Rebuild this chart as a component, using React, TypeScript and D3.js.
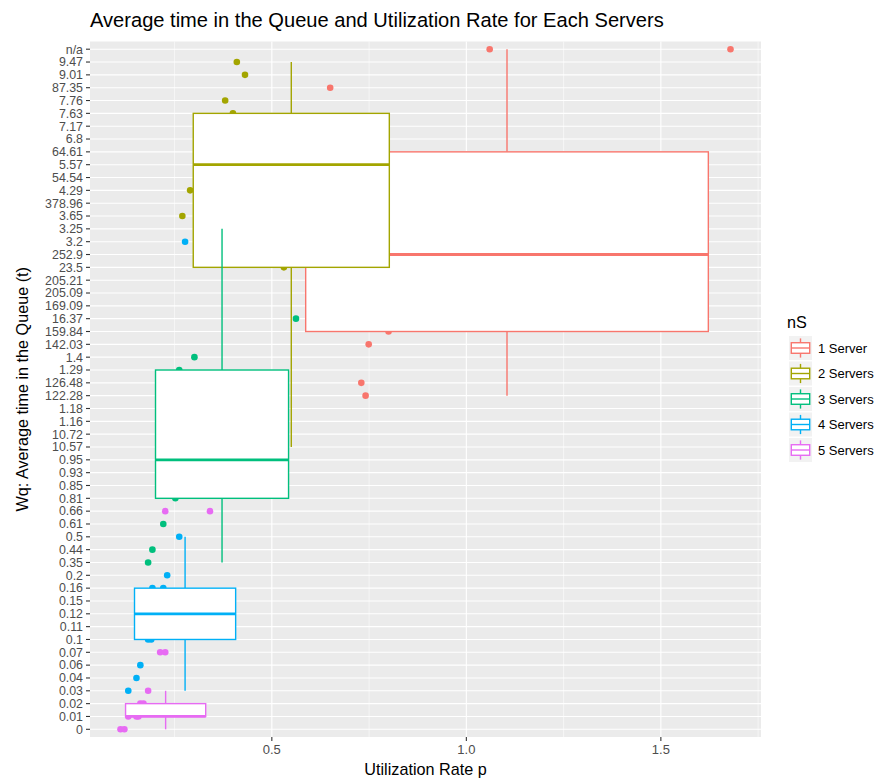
import React, { useEffect, useRef } from "react";
import * as d3 from "d3";

// y is a factor: levels from bottom to top
const wqLevels = [
  "0", "0.01", "0.02", "0.03", "0.04", "0.06", "0.07", "0.1", "0.11", "0.12",
  "0.15", "0.16", "0.2", "0.35", "0.44", "0.5", "0.61", "0.66", "0.81", "0.85",
  "0.93", "0.95", "10.57", "10.72", "1.16", "1.18", "122.28", "126.48", "1.29", "1.4",
  "142.03", "159.84", "16.37", "169.09", "205.09", "205.21", "23.5", "252.9", "3.2", "3.25",
  "3.65", "378.96", "4.29", "54.54", "5.57", "64.61", "6.8", "7.17", "7.63", "7.76",
  "87.35", "9.01", "9.47", "n/a",
];

const servers = ["1 Server", "2 Servers", "3 Servers", "4 Servers", "5 Servers"];
const serverColors = ["#F8766D", "#A3A500", "#00BF7D", "#00B0F6", "#E76BF3"];

// points (utilization p, Wq level) per number of servers
const p1 = [1.06, 1.679, 0.65, 0.80, 0.749, 0.73, 0.741];
const wq1 = ["n/a", "n/a", "87.35", "159.84", "142.03", "126.48", "122.28"];

const p2 = [0.41, 0.431, 0.38, 0.40, 0.29, 0.27, 0.531];
const wq2 = ["9.47", "9.01", "7.76", "7.63", "4.29", "3.65", "23.5"];

const p3 = [0.562, 0.301, 0.262, 0.252, 0.221, 0.193, 0.182];
const wq3 = ["16.37", "1.4", "1.29", "0.81", "0.61", "0.44", "0.35"];

const p4 = [0.277, 0.262, 0.231, 0.193, 0.221, 0.182, 0.19, 0.162, 0.152, 0.131];
const wq4 = ["3.2", "0.5", "0.2", "0.16", "0.16", "0.1", "0.1", "0.06", "0.04", "0.03"];

const p5 = [0.226, 0.341, 0.213, 0.226, 0.182, 0.162, 0.17, 0.131, 0.152, 0.157, 0.111, 0.121];
const wq5 = ["0.66", "0.66", "0.07", "0.07", "0.03", "0.02", "0.02", "0.01", "0.01", "0.01", "0", "0"];

const pointP = [p1, p2, p3, p4, p5];
const pointWq = [wq1, wq2, wq3, wq4, wq5];

// boxplot stats per group
const boxLow = ["122.28", "10.57", "0.35", "0.03", "0"];
const boxQ1 = ["159.84", "23.5", "0.81", "0.1", "0.01"];
const boxMed = ["252.9", "5.57", "0.95", "0.12", "0.01"];
const boxQ3 = ["64.61", "7.63", "1.29", "0.16", "0.02"];
const boxHigh = ["n/a", "9.47", "3.25", "0.5", "0.03"];
const boxPMin = [0.587, 0.298, 0.201, 0.147, 0.124];
const boxPMax = [1.622, 0.802, 0.543, 0.407, 0.330];

const xTicks = [0.5, 1.0, 1.5];
const xMinor = [0.25, 0.75, 1.25, 1.75];

const W = 881, H = 782;
const FONT = "'Liberation Sans', Arial, Helvetica, sans-serif";

const App = () => {
  const ref = useRef<SVGSVGElement | null>(null);

  useEffect(() => {
    const svg = d3.select(ref.current);
    svg.selectAll("*").remove();

    const panel = { left: 90, right: 761, top: 41.5, bottom: 737 };

    const allP = pointP.flat().concat(boxPMin, boxPMax);
    const lo = d3.min(allP) as number, hi = d3.max(allP) as number;
    const pad = (hi - lo) * 0.05;
    const x = d3.scaleLinear().domain([lo - pad, hi + pad]).range([panel.left, panel.right]);
    const y = d3.scalePoint<string>().domain(wqLevels).range([panel.bottom, panel.top]).padding(0.6);
    const yy = (l: string) => y(l) as number;

    // panel background
    svg.append("rect")
      .attr("x", panel.left).attr("y", panel.top)
      .attr("width", panel.right - panel.left).attr("height", panel.bottom - panel.top)
      .attr("fill", "#EBEBEB");

    // grid
    svg.append("g").selectAll("line").data(xMinor).enter().append("line")
      .attr("x1", d => x(d)).attr("x2", d => x(d))
      .attr("y1", panel.top).attr("y2", panel.bottom)
      .attr("stroke", "#fff").attr("stroke-width", 0.55);
    svg.append("g").selectAll("line").data(xTicks).enter().append("line")
      .attr("x1", d => x(d)).attr("x2", d => x(d))
      .attr("y1", panel.top).attr("y2", panel.bottom)
      .attr("stroke", "#fff").attr("stroke-width", 1.1);
    svg.append("g").selectAll("line").data(wqLevels).enter().append("line")
      .attr("x1", panel.left).attr("x2", panel.right)
      .attr("y1", d => yy(d)).attr("y2", d => yy(d))
      .attr("stroke", "#fff").attr("stroke-width", 1.1);

    // points
    servers.forEach((s, i) => {
      svg.append("g").selectAll("circle").data(pointP[i]).enter().append("circle")
        .attr("cx", d => x(d))
        .attr("cy", (d, j) => yy(pointWq[i][j]))
        .attr("r", 3.3)
        .attr("fill", serverColors[i]);
    });

    // boxplots
    servers.forEach((s, i) => {
      const g = svg.append("g");
      const c = serverColors[i];
      const mid = (x(boxPMin[i]) + x(boxPMax[i])) / 2;
      g.append("line").attr("x1", mid).attr("x2", mid)
        .attr("y1", yy(boxQ3[i])).attr("y2", yy(boxHigh[i]))
        .attr("stroke", c).attr("stroke-width", 1.4);
      g.append("line").attr("x1", mid).attr("x2", mid)
        .attr("y1", yy(boxQ1[i])).attr("y2", yy(boxLow[i]))
        .attr("stroke", c).attr("stroke-width", 1.4);
      g.append("rect")
        .attr("x", x(boxPMin[i])).attr("y", yy(boxQ3[i]))
        .attr("width", x(boxPMax[i]) - x(boxPMin[i]))
        .attr("height", yy(boxQ1[i]) - yy(boxQ3[i]))
        .attr("fill", "#fff").attr("stroke", c).attr("stroke-width", 1.4);
      g.append("line")
        .attr("x1", x(boxPMin[i])).attr("x2", x(boxPMax[i]))
        .attr("y1", yy(boxMed[i])).attr("y2", yy(boxMed[i]))
        .attr("stroke", c).attr("stroke-width", 2.8);
    });

    // y axis
    const ya = svg.append("g");
    wqLevels.forEach(l => {
      ya.append("line").attr("x1", panel.left - 4).attr("x2", panel.left)
        .attr("y1", yy(l)).attr("y2", yy(l)).attr("stroke", "#333").attr("stroke-width", 1.1);
      ya.append("text").attr("x", panel.left - 7).attr("y", yy(l))
        .attr("dy", "0.35em").attr("text-anchor", "end")
        .attr("font-family", FONT).attr("font-size", 12.4).attr("fill", "#4D4D4D")
        .text(l);
    });

    // x axis
    const xa = svg.append("g");
    xTicks.forEach(t => {
      xa.append("line").attr("x1", x(t)).attr("x2", x(t))
        .attr("y1", panel.bottom).attr("y2", panel.bottom + 4)
        .attr("stroke", "#333").attr("stroke-width", 1.1);
      xa.append("text").attr("x", x(t)).attr("y", panel.bottom + 16.5)
        .attr("text-anchor", "middle")
        .attr("font-family", FONT).attr("font-size", 13).attr("fill", "#4D4D4D")
        .text(d3.format(".1f")(t));
    });

    // titles
    svg.append("text").attr("x", panel.left).attr("y", 27)
      .attr("font-family", FONT).attr("font-size", 20.1).attr("fill", "#000")
      .text("Average time in the Queue and Utilization Rate for Each Servers");
    svg.append("text").attr("x", (panel.left + panel.right) / 2).attr("y", 775)
      .attr("text-anchor", "middle")
      .attr("font-family", FONT).attr("font-size", 16.2).attr("fill", "#000")
      .text("Utilization Rate p");
    svg.append("text")
      .attr("transform", `translate(28,${(panel.top + panel.bottom) / 2}) rotate(-90)`)
      .attr("text-anchor", "middle")
      .attr("font-family", FONT).attr("font-size", 16.2).attr("fill", "#000")
      .text("Wq: Average time in the Queue (t)");

    // legend
    const lg = svg.append("g").attr("transform", "translate(787,0)");
    lg.append("text").attr("x", 0).attr("y", 328)
      .attr("font-family", FONT).attr("font-size", 16.2).attr("fill", "#000")
      .text("nS");
    servers.forEach((s, i) => {
      const cy = 348 + i * 25.5;
      const kx = 2, kw = 23, kh = 24;
      const k = lg.append("g");
      k.append("rect").attr("x", kx).attr("y", cy - kh / 2).attr("width", kw).attr("height", kh)
        .attr("fill", "#F2F2F2");
      k.append("line").attr("x1", kx + kw / 2).attr("x2", kx + kw / 2)
        .attr("y1", cy - kh * 0.4).attr("y2", cy + kh * 0.4)
        .attr("stroke", serverColors[i]).attr("stroke-width", 1.4);
      k.append("rect").attr("x", kx + kw * 0.1).attr("y", cy - kh * 0.22)
        .attr("width", kw * 0.8).attr("height", kh * 0.44)
        .attr("fill", "#fff").attr("stroke", serverColors[i]).attr("stroke-width", 1.4);
      k.append("line").attr("x1", kx + kw * 0.1).attr("x2", kx + kw * 0.9)
        .attr("y1", cy).attr("y2", cy)
        .attr("stroke", serverColors[i]).attr("stroke-width", 1.4);
      lg.append("text").attr("x", 31).attr("y", cy).attr("dy", "0.35em")
        .attr("font-family", FONT).attr("font-size", 13).attr("fill", "#000")
        .text(s);
    });
  }, []);

  return (
    <svg ref={ref} width={W} height={H}
      style={{ position: "absolute", left: 0, top: 0, background: "#fff" }} />
  );
};

export default App;
